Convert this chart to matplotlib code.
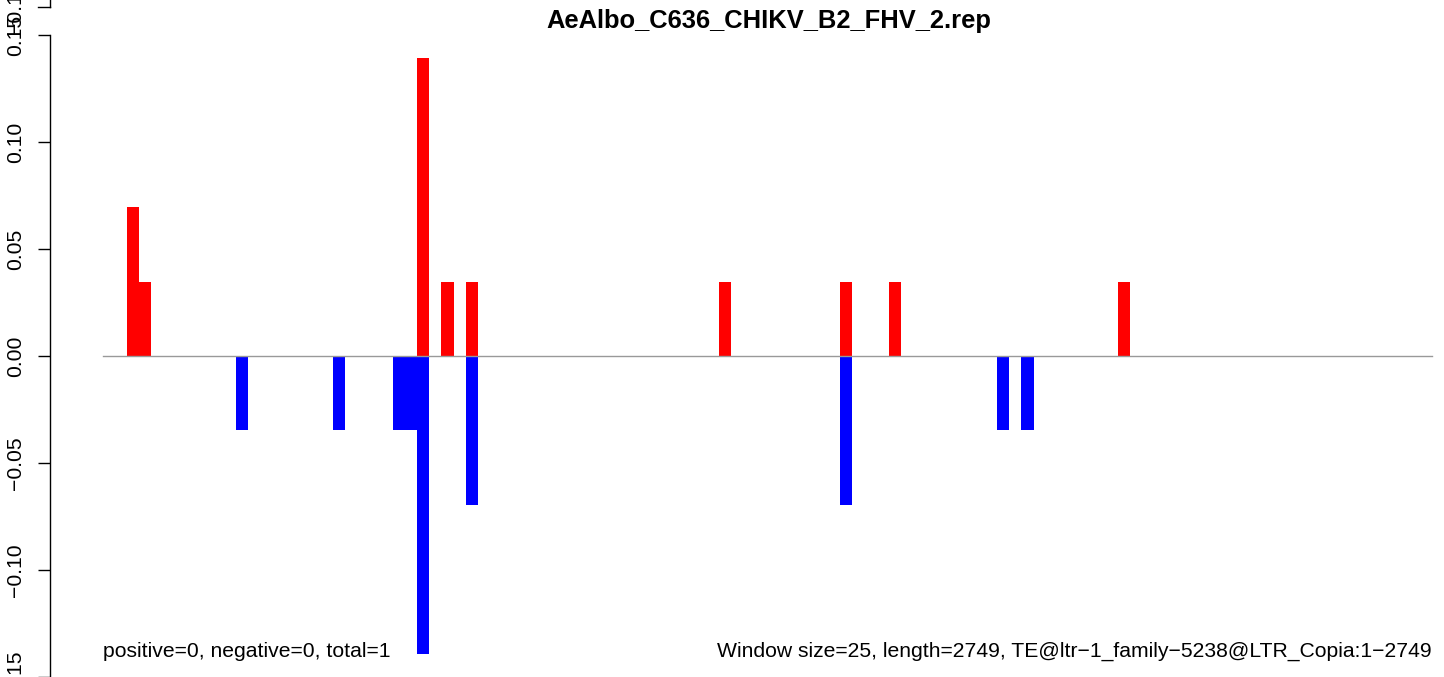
import matplotlib
matplotlib.use("Agg")
import matplotlib.pyplot as plt
from matplotlib.lines import Line2D

plt.rcParams['font.family'] = ['Liberation Sans', 'DejaVu Sans']

# ---- data ----
title = "AeAlbo_C636_CHIKV_B2_FHV_2.rep"
window_size = 25
seq_length = 2749
pos_windows = [2, 3, 26, 28, 30, 51, 61, 65, 84]
pos_values = [0.0696, 0.0348, 0.1392, 0.0348, 0.0348, 0.0348, 0.0348, 0.0348, 0.0348]
neg_windows = [11, 19, 24, 25, 26, 30, 61, 74, 76]
neg_values = [-0.0348, -0.0348, -0.0348, -0.0348, -0.1392, -0.0696, -0.0696, -0.0348, -0.0348]
yticks = [-0.15, -0.10, -0.05, 0.00, 0.05, 0.10, 0.15]
ytick_labels = ["\u22120.15", "\u22120.10", "\u22120.05", "0.00", "0.05", "0.10", "0.15"]
left_text = "positive=0, negative=0, total=1"
right_text = "Window size=25, length=2749, TE@ltr\u22121_family\u22125238@LTR_Copia:1\u22122749"

W, H = 1444, 677
fig = plt.figure(figsize=(W / 100, H / 100), dpi=100)

# plot region (extends past right edge like the cropped original)
x_left_px, x_right_px = 50, 1485
ax = fig.add_axes([x_left_px / W, 0, (x_right_px - x_left_px) / W, 1])
ext = 0.04 * seq_length
ax.set_xlim(-ext, seq_length + ext)
ax.set_ylim(-0.15, 0.16636)

ax.bar([w * window_size for w in pos_windows], pos_values, width=window_size,
       align='edge', color='#FF0000', linewidth=0)
ax.bar([w * window_size for w in neg_windows], neg_values, width=window_size,
       align='edge', color='#0000FF', linewidth=0)
ax.plot([0, seq_length], [0, 0], color='#999999', linewidth=1.0, zorder=3)

for s in ['top', 'right', 'bottom']:
    ax.spines[s].set_visible(False)
ax.spines['left'].set_bounds(-0.15, 0.15)
ax.spines['left'].set_linewidth(1.0)
ax.set_xticks([])
ax.set_yticks(yticks)
ax.set_yticklabels(ytick_labels, rotation=90, va='center', ha='center')
ax.tick_params(axis='y', length=8.6, width=1.0, labelsize=15.2, pad=16.5)

ax.text(0, -0.1407, left_text, ha='left', va='baseline', fontsize=15.2)
ax.text(seq_length, -0.1407, right_text, ha='right', va='baseline', fontsize=15.2)

fig.text(769 / W, 1 - 28 / H, title, ha='center', va='baseline',
         fontsize=18.4, fontweight='bold')

# fragment of the panel above (cropped)
fig.add_artist(Line2D([50 / W, 50 / W], [1, 1 - 7 / H], color='black', linewidth=1.0))
fig.add_artist(Line2D([38 / W, 50 / W], [1 - 7 / H, 1 - 7 / H], color='black', linewidth=1.0))
fig.text(15 / W, 1 - 7 / H, "\u22120.15", rotation=90, ha='center', va='center', fontsize=15.2)

fig.savefig("out.png", dpi=100)
